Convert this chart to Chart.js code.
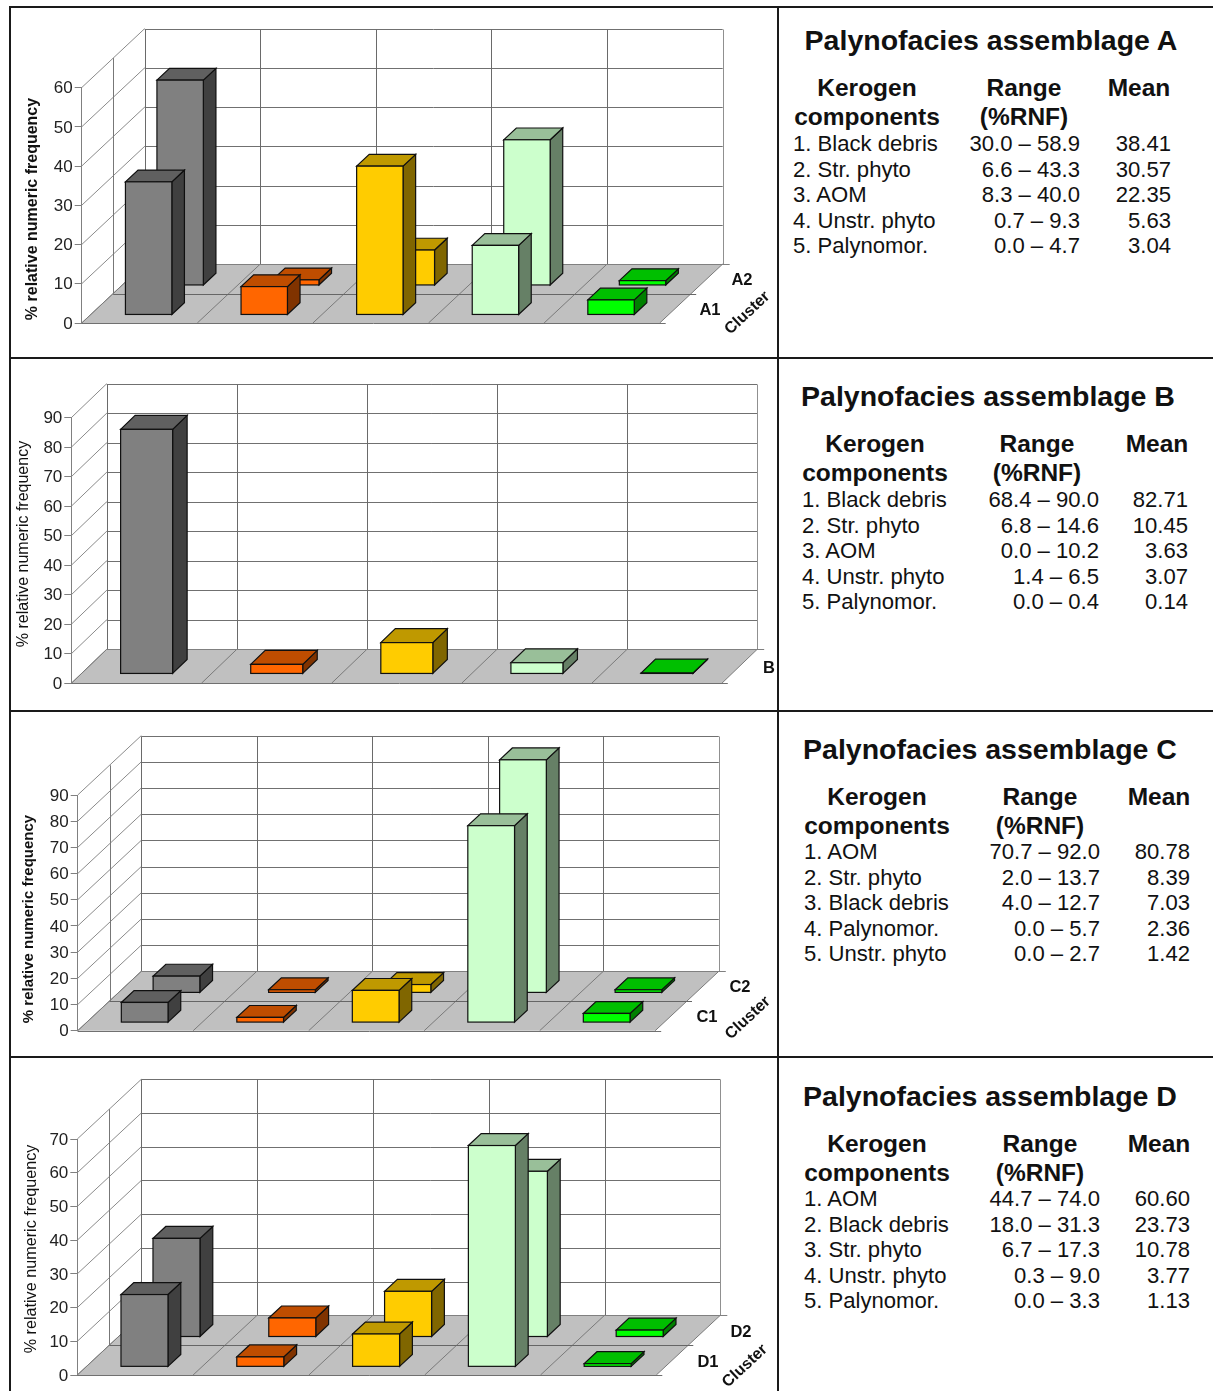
<!DOCTYPE html>
<html>
<head>
<meta charset="utf-8">
<title>Palynofacies assemblages</title>
<script src="https://cdn.jsdelivr.net/npm/chart.js@4/dist/chart.umd.min.js"></script>
<style>
  html, body { margin: 0; background: #fff; }
  #page { position: relative; width: 1213px; height: 1391px; overflow: hidden; font-family: "Liberation Sans", Arial, sans-serif; color: #111; }
  canvas { position: absolute; left: 0; }
  .rule { position: absolute; background: #1a1a1a; }
  .txt { position: absolute; white-space: nowrap; line-height: 1; }
  .title { font-size: 28.5px; font-weight: bold; transform: translate(-50%, -50%); }
  .head { font-size: 24.5px; font-weight: bold; transform: translate(-50%, -50%); }
  .name { font-size: 22.1px; transform: translateY(-50%); }
  .num { font-size: 22.1px; transform: translate(-100%, -50%); }
</style>
</head>
<body>
<div id="page"></div>
<script>
// Bar order on the floor of every chart
const categories = ['Black debris', 'Unstr. phyto', 'Str. phyto', 'AOM', 'Palynomor.'];

// %RNF per cluster
const a1Values = [33.8, 7.1, 37.8, 17.6, 3.7];
const a2Values = [52.2, 1.3, 8.9, 37.0, 1.1];
const bValues = [82.71, 3.07, 10.45, 3.63, 0.14];
const c1Values = [7.5, 1.8, 12.1, 75.0, 3.3];
const c2Values = [6.2, 1.0, 3.0, 88.8, 1.0];
const d1Values = [21.3, 2.8, 9.6, 65.5, 0.8];
const d2Values = [29.1, 5.5, 13.4, 49.0, 1.9];

// y axis ticks
const ticksA = [0, 10, 20, 30, 40, 50, 60];
const ticksB = [0, 10, 20, 30, 40, 50, 60, 70, 80, 90];
const ticksC = [0, 10, 20, 30, 40, 50, 60, 70, 80, 90];
const ticksD = [0, 10, 20, 30, 40, 50, 60, 70];

// Table beside each chart
const rowsA = [
  ['1. Black debris', '30.0 – 58.9', '38.41'],
  ['2. Str. phyto', '6.6 – 43.3', '30.57'],
  ['3. AOM', '8.3 – 40.0', '22.35'],
  ['4. Unstr. phyto', '0.7 – 9.3', '5.63'],
  ['5. Palynomor.', '0.0 – 4.7', '3.04']
];
const rowsB = [
  ['1. Black debris', '68.4 – 90.0', '82.71'],
  ['2. Str. phyto', '6.8 – 14.6', '10.45'],
  ['3. AOM', '0.0 – 10.2', '3.63'],
  ['4. Unstr. phyto', '1.4 – 6.5', '3.07'],
  ['5. Palynomor.', '0.0 – 0.4', '0.14']
];
const rowsC = [
  ['1. AOM', '70.7 – 92.0', '80.78'],
  ['2. Str. phyto', '2.0 – 13.7', '8.39'],
  ['3. Black debris', '4.0 – 12.7', '7.03'],
  ['4. Palynomor.', '0.0 – 5.7', '2.36'],
  ['5. Unstr. phyto', '0.0 – 2.7', '1.42']
];
const rowsD = [
  ['1. AOM', '44.7 – 74.0', '60.60'],
  ['2. Black debris', '18.0 – 31.3', '23.73'],
  ['3. Str. phyto', '6.7 – 17.3', '10.78'],
  ['4. Unstr. phyto', '0.3 – 9.0', '3.77'],
  ['5. Palynomor.', '0.0 – 3.3', '1.13']
];

// front, top and side shades per category
const faceColors = ['#808080', '#FF6600', '#FFCC00', '#CCFFCC', '#00FF00'];
const topColors = ['#606060', '#BF4D00', '#BF9900', '#99BF99', '#00BF00'];
const sideColors = ['#404040', '#803300', '#806600', '#668066', '#008000'];

const PANEL_W = 777;
const page = document.getElementById('page');

// Two row layout shared by A, C and D: front faces sit at these fractions of the floor depth
const twoRows = [{ at: 0.145 }, { at: 0.645 }];
const oneRow = [{ at: 0.29 }];

const panels = [
  {
    letter: 'A', top: 8, height: 350, left: 81.7, right: 659.7, y0: 323, yMax: 87.6, dx: 63, dy: -59,
    barWidth: 46.4, boxDepth: 0.2, rows: twoRows, ticks: ticksA, series: [a1Values, a2Values],
    yTitle: { x: 33, y: 209, font: 'bold 16px "Liberation Sans"' },
    labels: [['A2', 742, 278], ['A1', 710, 308]], cluster: [747.5, 312],
    table: rowsA, titleX: 991, titleY: 40, nameX: 793, kerogenX: 867, rangeX: 1024, meanX: 1139, rangeR: 1080, meanR: 1171, headY: 88, rowY: 144
  },
  {
    letter: 'B', top: 359, height: 352, left: 71.3, right: 721.8, y0: 683.3, yMax: 417.7, dx: 35.4, dy: -34,
    barWidth: 52, boxDepth: 0.41, rows: oneRow, ticks: ticksB, series: [bValues],
    yTitle: { x: 24, y: 544, font: '16px "Liberation Sans"' },
    labels: [['B', 769, 666]], cluster: null,
    table: rowsB, titleX: 988, titleY: 396, nameX: 802, kerogenX: 875, rangeX: 1037, meanX: 1157, rangeR: 1099, meanR: 1188, headY: 444, rowY: 500
  },
  {
    letter: 'C', top: 712, height: 345, left: 77.7, right: 655.2, y0: 1030.7, yMax: 795, dx: 63.6, dy: -59.4,
    barWidth: 46.7, boxDepth: 0.2, rows: twoRows, ticks: ticksC, series: [c1Values, c2Values],
    yTitle: { x: 29, y: 919, font: 'bold 15px "Liberation Sans"' },
    labels: [['C2', 740, 985], ['C1', 707, 1015]], cluster: [748, 1017],
    table: rowsC, titleX: 990, titleY: 749, nameX: 804, kerogenX: 877, rangeX: 1040, meanX: 1159, rangeR: 1100, meanR: 1190, headY: 797, rowY: 852
  },
  {
    letter: 'D', top: 1058, height: 333, left: 77.3, right: 656.3, y0: 1375, yMax: 1139, dx: 64, dy: -59.7,
    barWidth: 47, boxDepth: 0.2, rows: twoRows, ticks: ticksD, series: [d1Values, d2Values],
    yTitle: { x: 32, y: 1249, font: '16.2px "Liberation Sans"' },
    labels: [['D2', 741, 1330], ['D1', 708, 1360]], cluster: [745, 1365],
    table: rowsD, titleX: 990, titleY: 1096, nameX: 804, kerogenX: 877, rangeX: 1040, meanX: 1159, rangeR: 1100, meanR: 1190, headY: 1144, rowY: 1199
  }
];

const crisp = v => Math.round(v) + 0.5;

function line(ctx, x1, y1, x2, y2, color) {
  ctx.strokeStyle = color;
  ctx.lineWidth = 1;
  ctx.beginPath();
  ctx.moveTo(x1, y1);
  ctx.lineTo(x2, y2);
  ctx.stroke();
}

function poly(ctx, pts, fill) {
  ctx.fillStyle = fill;
  ctx.beginPath();
  pts.forEach((p, i) => i ? ctx.lineTo(p[0], p[1]) : ctx.moveTo(p[0], p[1]));
  ctx.closePath();
  ctx.fill();
  ctx.stroke();
}

// Draws the walls and floor behind the bars, then each bar as a box
function depthPlugin(panel) {
  const { dx, dy } = panel;
  return {
    id: 'depth' + panel.letter,
    beforeDatasetsDraw(chart) {
      const { ctx, chartArea } = chart;
      const { left, right } = chartArea;
      const yScale = chart.scales.y;
      const base = yScale.getPixelForValue(0);
      const top = yScale.getPixelForValue(panel.ticks[panel.ticks.length - 1]);
      const step = (right - left) / categories.length;
      ctx.save();

      // floor
      ctx.fillStyle = '#C0C0C0';
      ctx.beginPath();
      ctx.moveTo(left, base);
      ctx.lineTo(right, base);
      ctx.lineTo(right + dx, base + dy);
      ctx.lineTo(left + dx, base + dy);
      ctx.closePath();
      ctx.fill();

      // wall lines at every tick
      panel.ticks.forEach(v => {
        const y = yScale.getPixelForValue(v);
        line(ctx, left, y, left + dx, y + dy, '#8a8a8a');
        if (v > 0) line(ctx, left + dx, crisp(y + dy), right + dx, crisp(y + dy), '#707070');
      });

      // uprights on the back wall and seams across the floor
      for (let i = 0; i <= categories.length; i++) {
        const x = left + step * i;
        line(ctx, crisp(x + dx), crisp(base + dy), crisp(x + dx), crisp(top + dy), i === categories.length ? '#909090' : '#6a6a6a');
        line(ctx, x, base, x + dx, base + dy, '#7a7a7a');
      }

      // outline of the floor, running a little past the right edge
      line(ctx, left, crisp(base), right + 6, crisp(base), '#707070');
      line(ctx, left + dx, crisp(base + dy), right + dx + 7, crisp(base + dy), '#808080');

      // seam between the two cluster rows
      if (panel.rows.length > 1) {
        line(ctx, left + dx / 2, crisp(base + dy / 2), right + dx / 2 + 5, crisp(base + dy / 2), '#666');
        line(ctx, crisp(left + dx / 2), base + dy / 2, crisp(left + dx / 2), top + dy / 2, '#777');
      }
      ctx.restore();
    },
    afterDatasetsDraw(chart) {
      const { ctx } = chart;
      const yScale = chart.scales.y;
      ctx.save();
      ctx.strokeStyle = '#101010';
      ctx.lineWidth = 1.2;
      ctx.lineJoin = 'miter';

      // back row first so the front row covers it
      for (let d = chart.data.datasets.length - 1; d >= 0; d--) {
        const row = panel.rows[d];
        const meta = chart.getDatasetMeta(d);
        meta.data.forEach((bar, i) => {
          const ox = dx * row.at;
          const oy = dy * row.at;
          const ddx = dx * panel.boxDepth;
          const ddy = dy * panel.boxDepth;
          const x1 = bar.x - bar.width / 2 + ox;
          const x2 = bar.x + bar.width / 2 + ox;
          const yb = yScale.getPixelForValue(0) + oy;
          const yt = bar.y + oy;
          poly(ctx, [[x2, yb], [x2 + ddx, yb + ddy], [x2 + ddx, yt + ddy], [x2, yt]], sideColors[i]);
          poly(ctx, [[x1, yt], [x2, yt], [x2 + ddx, yt + ddy], [x1 + ddx, yt + ddy]], topColors[i]);
          ctx.fillStyle = faceColors[i];
          ctx.fillRect(x1, yt, x2 - x1, yb - yt);
          ctx.strokeRect(x1, yt, x2 - x1, yb - yt);
        });
      }
      ctx.restore();

      // axis title, cluster names
      ctx.save();
      ctx.fillStyle = '#111';
      ctx.textAlign = 'center';
      ctx.textBaseline = 'middle';
      const title = panel.yTitle;
      ctx.save();
      ctx.translate(title.x, title.y - panel.top);
      ctx.rotate(-Math.PI / 2);
      ctx.font = title.font;
      ctx.fillText('% relative numeric frequency', 0, 0);
      ctx.restore();
      ctx.font = 'bold 16.5px "Liberation Sans"';
      panel.labels.forEach(l => ctx.fillText(l[0], l[1], l[2] + 2 - panel.top));
      if (panel.cluster) {
        ctx.translate(panel.cluster[0], panel.cluster[1] + 1 - panel.top);
        ctx.rotate(-43 * Math.PI / 180);
        ctx.font = 'bold 16px "Liberation Sans"';
        ctx.fillText('Cluster', 0, 0);
      }
      ctx.restore();
    }
  };
}

function drawPanel(panel) {
  const canvas = document.createElement('canvas');
  canvas.width = PANEL_W;
  canvas.height = panel.height;
  canvas.style.top = panel.top + 'px';
  page.appendChild(canvas);

  new Chart(canvas.getContext('2d'), {
    type: 'bar',
    data: {
      labels: categories,
      datasets: panel.series.map(values => ({
        data: values,
        grouped: false,
        barThickness: panel.barWidth,
        backgroundColor: 'rgba(0,0,0,0)',
        borderWidth: 0
      }))
    },
    options: {
      responsive: false,
      animation: false,
      layout: {
        padding: {
          top: panel.yMax - panel.top,
          bottom: panel.top + panel.height - panel.y0,
          right: PANEL_W - panel.right,
          left: 0
        }
      },
      plugins: { legend: { display: false }, tooltip: { enabled: false } },
      scales: {
        x: { display: false },
        y: {
          min: 0,
          max: panel.ticks[panel.ticks.length - 1],
          afterFit: scale => { scale.width = panel.left; },
          afterBuildTicks: scale => { scale.ticks = panel.ticks.map(value => ({ value })); },
          grid: { drawOnChartArea: false, tickLength: 7, color: '#808080' },
          border: { color: '#808080' },
          ticks: { padding: 2, labelOffset: 1, color: '#222', font: { family: '"Liberation Sans"', size: 17 } }
        }
      }
    },
    plugins: [depthPlugin(panel)]
  });
}

function put(text, x, y, cls) {
  const el = document.createElement('div');
  el.className = 'txt ' + cls;
  el.textContent = text;
  el.style.left = x + 'px';
  el.style.top = y + 'px';
  page.appendChild(el);
}

function drawTable(panel) {
  put('Palynofacies assemblage ' + panel.letter, panel.titleX, panel.titleY, 'title');
  put('Kerogen', panel.kerogenX, panel.headY, 'head');
  put('components', panel.kerogenX, panel.headY + 28.5, 'head');
  put('Range', panel.rangeX, panel.headY, 'head');
  put('(%RNF)', panel.rangeX, panel.headY + 28.5, 'head');
  put('Mean', panel.meanX, panel.headY, 'head');
  panel.table.forEach((row, i) => {
    const y = panel.rowY + i * 25.6;
    put(row[0], panel.nameX, y, 'name');
    put(row[1], panel.rangeR, y, 'num');
    put(row[2], panel.meanR, y, 'num');
  });
}

function rule(x, y, w, h) {
  const el = document.createElement('div');
  el.className = 'rule';
  el.style.cssText = `left:${x}px;top:${y}px;width:${w}px;height:${h}px`;
  page.appendChild(el);
}

panels.forEach(p => { drawPanel(p); drawTable(p); });

// Frame around the panels
[6, 357, 710, 1056].forEach(y => rule(9, y, 1204, 2));
rule(9, 6, 2, 1385);
rule(777, 6, 2, 1385);
</script>
</body>
</html>
